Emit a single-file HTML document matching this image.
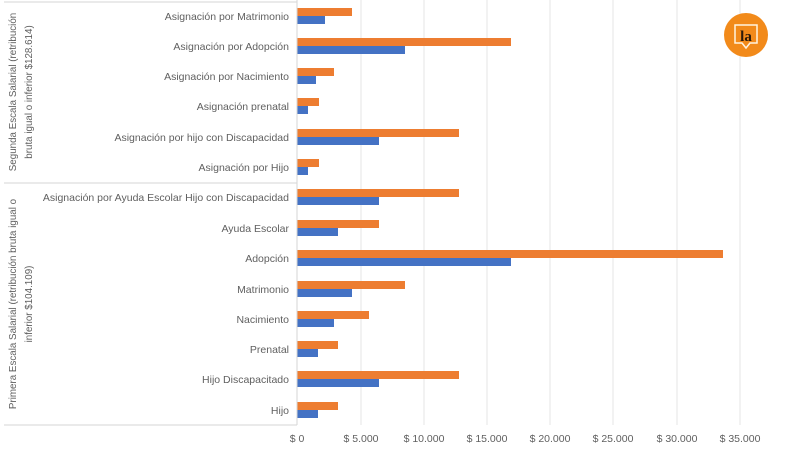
<!DOCTYPE html>
<html><head><meta charset="utf-8"><style>
body{margin:0;background:#fff;}
svg text{font-family:"Liberation Sans",sans-serif;fill:#606060;font-size:10.5px;}
</style></head><body>
<svg width="800" height="445" viewBox="0 0 800 445" xmlns="http://www.w3.org/2000/svg">
<rect width="800" height="445" fill="#fff"/>
<g stroke="#e4e4e4" stroke-width="1">
<line x1="361" y1="0" x2="361" y2="425"/><line x1="424" y1="0" x2="424" y2="425"/>
<line x1="487" y1="0" x2="487" y2="425"/><line x1="550" y1="0" x2="550" y2="425"/>
<line x1="613" y1="0" x2="613" y2="425"/><line x1="677" y1="0" x2="677" y2="425"/>
<line x1="740" y1="0" x2="740" y2="425"/>
</g>
<g stroke="#d6d6d6" stroke-width="1">
<line x1="297" y1="0" x2="297" y2="425"/>
<line x1="4" y1="2" x2="297" y2="2"/>
<line x1="4" y1="183" x2="297" y2="183"/>
<line x1="4" y1="425" x2="297" y2="425"/>
</g>
<g fill="#ed7d31">
<rect x="297.5" y="8" width="54.5" height="8"/>
<rect x="297.5" y="38" width="213.5" height="8"/>
<rect x="297.5" y="68" width="36.5" height="8"/>
<rect x="297.5" y="98" width="21.5" height="8"/>
<rect x="297.5" y="129" width="161.5" height="8"/>
<rect x="297.5" y="159" width="21.5" height="8"/>
<rect x="297.5" y="189" width="161.5" height="8"/>
<rect x="297.5" y="220" width="81.5" height="8"/>
<rect x="297.5" y="250" width="425.5" height="8"/>
<rect x="297.5" y="281" width="107.5" height="8"/>
<rect x="297.5" y="311" width="71.5" height="8"/>
<rect x="297.5" y="341" width="40.5" height="8"/>
<rect x="297.5" y="371" width="161.5" height="8"/>
<rect x="297.5" y="402" width="40.5" height="8"/>
</g>
<g fill="#4472c4">
<rect x="297.5" y="16" width="27.5" height="8"/>
<rect x="297.5" y="46" width="107.5" height="8"/>
<rect x="297.5" y="76" width="18.5" height="8"/>
<rect x="297.5" y="106" width="10.5" height="8"/>
<rect x="297.5" y="137" width="81.5" height="8"/>
<rect x="297.5" y="167" width="10.5" height="8"/>
<rect x="297.5" y="197" width="81.5" height="8"/>
<rect x="297.5" y="228" width="40.5" height="8"/>
<rect x="297.5" y="258" width="213.5" height="8"/>
<rect x="297.5" y="289" width="54.5" height="8"/>
<rect x="297.5" y="319" width="36.5" height="8"/>
<rect x="297.5" y="349" width="20.5" height="8"/>
<rect x="297.5" y="379" width="81.5" height="8"/>
<rect x="297.5" y="410" width="20.5" height="8"/>
</g>
<g text-anchor="end">
<text x="289" y="20">Asignación por Matrimonio</text>
<text x="289" y="50">Asignación por Adopción</text>
<text x="289" y="80">Asignación por Nacimiento</text>
<text x="289" y="110">Asignación prenatal</text>
<text x="289" y="141">Asignación por hijo con Discapacidad</text>
<text x="289" y="171">Asignación por Hijo</text>
<text x="289" y="201">Asignación por Ayuda Escolar Hijo con Discapacidad</text>
<text x="289" y="232">Ayuda Escolar</text>
<text x="289" y="262">Adopción</text>
<text x="289" y="293">Matrimonio</text>
<text x="289" y="323">Nacimiento</text>
<text x="289" y="353">Prenatal</text>
<text x="289" y="383">Hijo Discapacitado</text>
<text x="289" y="414">Hijo</text>
</g>
<g text-anchor="middle" style="font-size:9.8px">
<text transform="translate(16,92) rotate(-90)" style="font-size:9.8px">Segunda Escala Salarial (retribución</text>
<text transform="translate(32,92) rotate(-90)" style="font-size:9.8px">bruta igual o inferior $128.614)</text>
<text transform="translate(16,304) rotate(-90)" style="font-size:9.8px">Primera Escala Salarial (retribución bruta igual o</text>
<text transform="translate(32,304) rotate(-90)" style="font-size:9.8px">inferior $104.109)</text>
</g>
<g text-anchor="middle">
<text x="297" y="442">$ 0</text><text x="361" y="442">$ 5.000</text>
<text x="424" y="442">$ 10.000</text><text x="487" y="442">$ 15.000</text>
<text x="550" y="442">$ 20.000</text><text x="613" y="442">$ 25.000</text>
<text x="677" y="442">$ 30.000</text><text x="740" y="442">$ 35.000</text>
</g>
<g>
<circle cx="746" cy="35" r="22" fill="#f28a1a"/>
<path d="M735 25 H757 V43 H750 L746 48 L742 43 H735 Z" fill="#f28a1a" stroke="#fff3e0" stroke-width="1.5"/>
<text x="746" y="41" text-anchor="middle" style="font-family:'Liberation Serif',serif;font-weight:bold;font-size:15px;fill:#2b1a0a">la</text>
</g>
</svg>
</body></html>
